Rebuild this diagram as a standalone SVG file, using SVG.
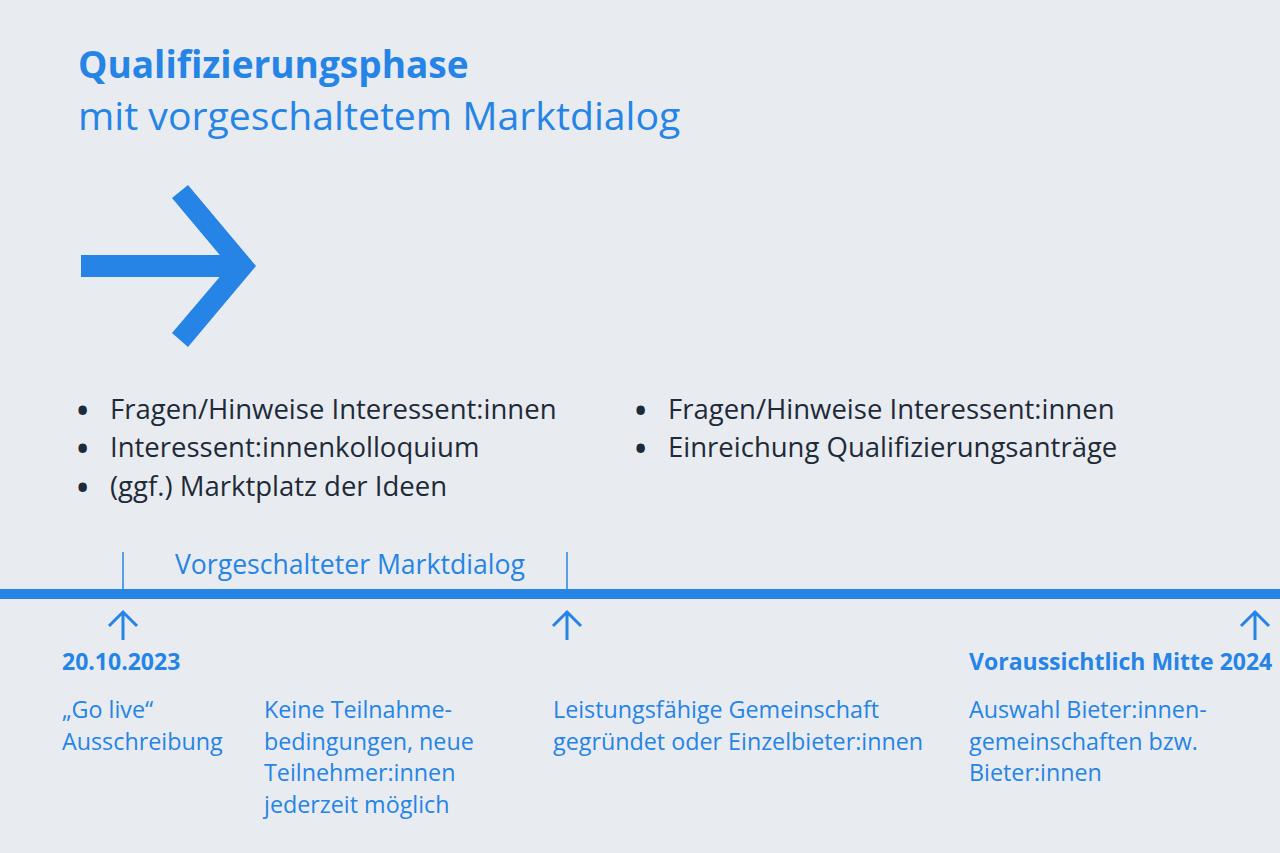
<svg xmlns="http://www.w3.org/2000/svg" width="1280" height="853" viewBox="0 0 1280 853">
<style>
.t{font-family:"Open Sans","Liberation Sans",sans-serif;fill:#2584e6}
.b{font-weight:700}
.d{font-family:"Open Sans","Liberation Sans",sans-serif;fill:#1f2a38;font-size:27.5px}
.bu{font-weight:700;font-size:30px}
.s{font-size:23.3px}
.ln{stroke:#2584e6;fill:none}
</style>
<rect width="1280" height="853" fill="#e8ecf0"/>
<g id="title">
<text class="t b" x="78" y="78" font-size="37">Qualifizierungsphase</text>
<text class="t" x="78" y="130" font-size="39.2">mit vorgeschaltetem Marktdialog</text>
</g>
<g id="big-arrow" fill="#2584e6">
<rect x="81" y="255" width="152" height="22"/>
<polygon points="188,185 256,266 188,347 172,333 229,266 172,198"/>
</g>
<g id="bullets-left" class="d">
<text class="bu" x="77" y="421">•</text><text x="110" y="419">Fragen/Hinweise Interessent:innen</text>
<text class="bu" x="77" y="459">•</text><text x="110" y="457">Interessent:innenkolloquium</text>
<text class="bu" x="77" y="498">•</text><text x="110" y="496">(ggf.) Marktplatz der Ideen</text>
</g>
<g id="bullets-right" class="d">
<text class="bu" x="635" y="421">•</text><text x="668" y="419">Fragen/Hinweise Interessent:innen</text>
<text class="bu" x="635" y="459">•</text><text x="668" y="457">Einreichung Qualifizierungsanträge</text>
</g>
<g id="connectors">
<rect x="0" y="589" width="1280" height="10" fill="#2584e6"/>
<line class="ln" x1="123" y1="552" x2="123" y2="589" stroke-width="1.5"/>
<line class="ln" x1="567" y1="552" x2="567" y2="589" stroke-width="1.5"/>
<g class="ln" stroke-width="3">
<path d="M123,640 V612 M109,626 L123,612 L137,626"/>
<path d="M567,640 V612 M553,626 L567,612 L581,626"/>
<path d="M1255,640 V612 M1241,626 L1255,612 L1269,626"/>
</g>
</g>
<g id="phase-label">
<text class="t" x="175" y="574" font-size="26.6">Vorgeschalteter Marktdialog</text>
</g>
<g id="node-golive" class="t s">
<text class="b" x="62" y="670" font-size="23">20.10.2023</text>
<text x="62" y="718">„Go live“</text>
<text x="62" y="750">Ausschreibung</text>
</g>
<g id="node-keine" class="t s">
<text x="264" y="718">Keine Teilnahme-</text>
<text x="264" y="750">bedingungen, neue</text>
<text x="264" y="781">Teilnehmer:innen</text>
<text x="264" y="813">jederzeit möglich</text>
</g>
<g id="node-leistung" class="t s">
<text x="553" y="718">Leistungsfähige Gemeinschaft</text>
<text x="553" y="750">gegründet oder Einzelbieter:innen</text>
</g>
<g id="node-auswahl" class="t s">
<text class="b" x="969" y="670" font-size="23">Voraussichtlich Mitte 2024</text>
<text x="969" y="718">Auswahl Bieter:innen-</text>
<text x="969" y="750">gemeinschaften bzw.</text>
<text x="969" y="781">Bieter:innen</text>
</g>
</svg>
